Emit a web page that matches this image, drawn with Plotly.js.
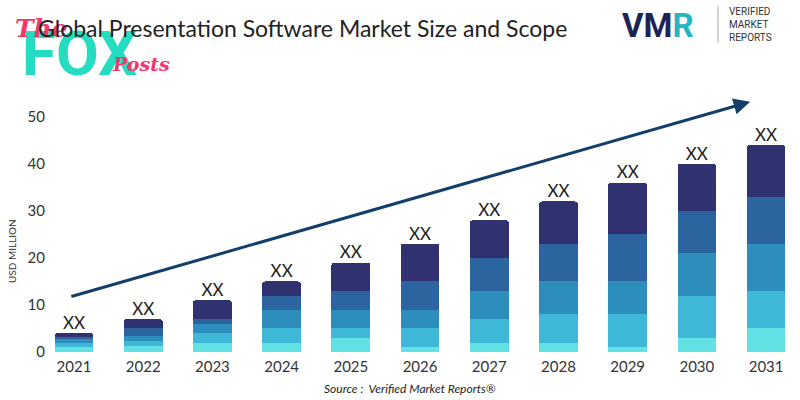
<!DOCTYPE html>
<html>
<head>
<meta charset="utf-8">
<script src="https://cdn.plot.ly/plotly-3.0.1.min.js"></script>
<style>html,body{margin:0;padding:0;background:#fff;}#chart{width:800px;height:400px;}</style>
</head>
<body>
<div id="chart"></div>
<script>
// Data (stacked segments, bottom to top)
const years = ["2021","2022","2023","2024","2025","2026","2027","2028","2029","2030","2031"];
const seg1 = [1.0, 1.2, 2, 2, 3, 1, 2, 2, 1, 3, 5];
const seg2 = [1.0, 1.1, 2, 3, 2, 4, 5, 6, 7, 9, 8];
const seg3 = [0.7, 1.2, 2, 4, 4, 4, 6, 7, 7, 9, 10];
const seg4 = [0.5, 1.5, 1, 3, 4, 6, 7, 8, 10, 9, 10];
const seg5 = [0.8, 2.0, 4, 3, 6, 8, 8, 9, 11, 10, 11];
const barLabels = ["XX","XX","XX","XX","XX","XX","XX","XX","XX","XX","XX"];
const segColors = ["#62e1e4", "#3fb7d7", "#2d8dbd", "#2b649f", "#2f326e"];

const segs = [seg1, seg2, seg3, seg4, seg5];
const traces = segs.map((s, i) => ({
  type: "bar", x: years, y: s, marker: {color: segColors[i], line: {width: 0}},
  hoverinfo: "skip", showlegend: false
}));
const totals = years.map((_, j) => segs.reduce((a, s) => a + s[j], 0));
traces.push({
  type: "scatter", mode: "text", x: years, y: totals, text: barLabels,
  textposition: "top center", textfont: {family: "Lato, sans-serif", size: 17, color: "#222"},
  hoverinfo: "skip", showlegend: false, cliponaxis: false
});

const layout = {
  width: 800, height: 400,
  margin: {l: 50, r: 0, t: 98, b: 48},
  paper_bgcolor: "#fff", plot_bgcolor: "#fff",
  barmode: "stack", bargap: 0.44, barcornerradius: 3,
  font: {family: "Lato, sans-serif", color: "#333"},
  xaxis: {type: "category", range: [-0.347, 10.49], showgrid: false, zeroline: false, showline: false,
          ticks: "", tickfont: {size: 15, color: "#333"}, ticklabelstandoff: 4},
  yaxis: {range: [0, 54], tickvals: [0,10,20,30,40,50], showgrid: false, zeroline: false, showline: false,
          ticks: "", tickfont: {size: 15, color: "#333"}, ticklabelstandoff: 4},
  shapes: [
    {type: "line", xref: "paper", yref: "paper", x0: (718-50)/750, x1: (718-50)/750,
     y0: (352-6)/254, y1: (352-43)/254, line: {color: "#aaa", width: 1}}
  ],
  annotations: [
    {xref: "x", yref: "y", axref: "x", ayref: "y", x: 9.77, y: 53.2, ax: -0.06, ay: 11.7,
     text: "", showarrow: true, arrowhead: 2, arrowsize: 1.1, arrowwidth: 3, arrowcolor: "#123f6a"},
    {xref: "paper", yref: "paper", x: (20-50)/750, y: (352-53)/254, xanchor: "left", yanchor: "middle",
     text: "<b>FOX</b>", showarrow: false, font: {family: "Roboto, sans-serif", size: 62, color: "#24dcc0"}},
    {xref: "paper", yref: "paper", x: (13-50)/750, y: (352-28)/254, xanchor: "left", yanchor: "middle",
     text: "<b><i>The</i></b>", showarrow: false, font: {family: "DejaVu Serif, serif", size: 25, color: "#f0386b"}},
    {xref: "paper", yref: "paper", x: (110-50)/750, y: (352-64)/254, xanchor: "left", yanchor: "middle",
     text: "<b><i>Posts</i></b>", showarrow: false, font: {family: "DejaVu Serif, serif", size: 19, color: "#f0386b"}},
    {xref: "paper", yref: "paper", x: (36-50)/750, y: (352-28)/254, xanchor: "left", yanchor: "middle",
     text: "Global Presentation Software Market Size and Scope", showarrow: false,
     font: {family: "Lato, sans-serif", size: 23, color: "#222"}},
    {xref: "paper", yref: "paper", x: (620-50)/750, y: (352-25)/254, xanchor: "left", yanchor: "middle",
     text: "<b>VM<span style='color:#27b5c4'>R</span></b>", showarrow: false,
     font: {family: "Roboto, sans-serif", size: 33, color: "#1e2356"}},
    {xref: "paper", yref: "paper", x: (727-50)/750, y: (352-24)/254, xanchor: "left", yanchor: "middle", align: "left",
     text: "VERIFIED<br>MARKET<br>REPORTS", showarrow: false,
     font: {family: "Roboto, sans-serif", size: 10, color: "#333"}},
    {xref: "paper", yref: "paper", x: (12-50)/750, y: (352-251)/254, xanchor: "center", yanchor: "middle",
     text: "USD MILLION", textangle: -90, showarrow: false,
     font: {family: "Lato, sans-serif", size: 10, color: "#333"}},
    {xref: "paper", yref: "paper", x: (410-50)/750, y: (352-388)/254, xanchor: "center", yanchor: "middle",
     text: "<i>Source :  Verified Market Reports®</i>", showarrow: false,
     font: {family: "Lato, sans-serif", size: 12, color: "#222"}}
  ]
};

Plotly.newPlot("chart", traces, layout, {displayModeBar: false, staticPlot: true});
</script>
</body>
</html>
